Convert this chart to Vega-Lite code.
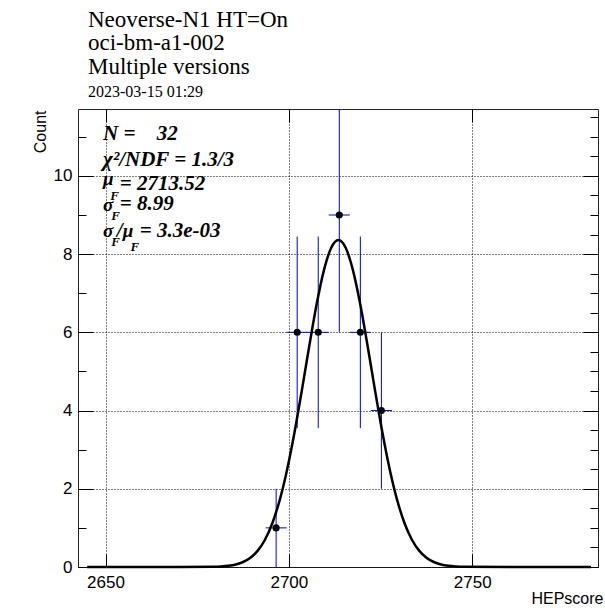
{
  "$schema": "https://vega.github.io/schema/vega-lite/v6.json",
  "width": 520,
  "height": 458,
  "autosize": "none",
  "padding": {"left": 78, "top": 109, "right": 7, "bottom": 41},
  "background": "white",
  "config": {"view": {"stroke": "#222222", "strokeWidth": 1}, "font": "Liberation Sans"},
  "title": {
    "text": ["Neoverse-N1 HT=On", "oci-bm-a1-002", "Multiple versions"],
    "subtitle": "2023-03-15 01:29",
    "anchor": "start",
    "frame": "group",
    "dx": 10,
    "offset": 9,
    "font": "Liberation Serif",
    "fontSize": 23,
    "fontWeight": "normal",
    "lineHeight": 23.5,
    "color": "black",
    "subtitleFont": "Liberation Serif",
    "subtitleFontSize": 16,
    "subtitleColor": "black",
    "subtitlePadding": 5
  },
  "datasets": {
    "bins": [
      {"center": 2696.53, "lo": 2693.66, "hi": 2699.40, "count": 1, "ylo": 0, "yhi": 2},
      {"center": 2702.27, "lo": 2699.40, "hi": 2705.14, "count": 6, "ylo": 3.551, "yhi": 8.449},
      {"center": 2708.01, "lo": 2705.14, "hi": 2710.88, "count": 6, "ylo": 3.551, "yhi": 8.449},
      {"center": 2713.75, "lo": 2710.88, "hi": 2716.62, "count": 9, "ylo": 6, "yhi": 12},
      {"center": 2719.49, "lo": 2716.62, "hi": 2722.36, "count": 6, "ylo": 3.551, "yhi": 8.449},
      {"center": 2725.23, "lo": 2722.36, "hi": 2728.10, "count": 4, "ylo": 2, "yhi": 6}
    ],
    "fit": [
      {"x": 2645.0, "y": 0},
      {"x": 2665.0, "y": 0},
      {"x": 2679.52, "y": 0.0065},
      {"x": 2681.52, "y": 0.0148},
      {"x": 2683.52, "y": 0.0319},
      {"x": 2685.52, "y": 0.0654},
      {"x": 2687.52, "y": 0.1276},
      {"x": 2689.52, "y": 0.2369},
      {"x": 2691.52, "y": 0.4186},
      {"x": 2693.52, "y": 0.7039},
      {"x": 2695.52, "y": 1.1264},
      {"x": 2697.52, "y": 1.7155},
      {"x": 2699.52, "y": 2.4865},
      {"x": 2701.52, "y": 3.4301},
      {"x": 2703.52, "y": 4.5032},
      {"x": 2705.52, "y": 5.6267},
      {"x": 2707.52, "y": 6.6908},
      {"x": 2709.52, "y": 7.5722},
      {"x": 2711.52, "y": 8.1556},
      {"x": 2713.52, "y": 8.36},
      {"x": 2715.52, "y": 8.1556},
      {"x": 2717.52, "y": 7.5722},
      {"x": 2719.52, "y": 6.6908},
      {"x": 2721.52, "y": 5.6267},
      {"x": 2723.52, "y": 4.5032},
      {"x": 2725.52, "y": 3.4301},
      {"x": 2727.52, "y": 2.4865},
      {"x": 2729.52, "y": 1.7155},
      {"x": 2731.52, "y": 1.1264},
      {"x": 2733.52, "y": 0.7039},
      {"x": 2735.52, "y": 0.4186},
      {"x": 2737.52, "y": 0.2369},
      {"x": 2739.52, "y": 0.1276},
      {"x": 2741.52, "y": 0.0654},
      {"x": 2743.52, "y": 0.0319},
      {"x": 2745.52, "y": 0.0148},
      {"x": 2747.52, "y": 0.0065},
      {"x": 2762.0, "y": 0},
      {"x": 2782.4, "y": 0}
    ],
    "one": [{}]
  },
  "resolve": {"axis": {"x": "independent", "y": "independent"}},
  "layer": [
    {
      "data": {"name": "bins"},
      "mark": {"type": "rule", "color": "#0000cc", "strokeWidth": 1, "clip": true},
      "encoding": {
        "x": {
          "field": "center", "type": "quantitative",
          "scale": {"domain": [2642.5, 2784.3], "nice": false, "zero": false},
          "axis": {
            "orient": "bottom", "values": [2650, 2700, 2750], "format": "d", "title": "HEPscore",
            "grid": true, "gridColor": "black", "gridDash": [1, 2], "gridWidth": 1,
            "domain": false, "ticks": true, "tickSize": -13, "tickColor": "black", "tickWidth": 1,
            "labelFont": "Liberation Sans", "labelFontSize": 17, "labelColor": "black", "labelPadding": 20,
            "titleFont": "Liberation Sans", "titleFontSize": 16, "titleFontWeight": "normal", "titleColor": "black",
            "titleAlign": "right", "titleAnchor": "end", "titleBaseline": "alphabetic", "titleX": 525, "titleY": 36
          }
        },
        "y": {
          "field": "ylo", "type": "quantitative",
          "scale": {"domain": [0, 11.71], "nice": false},
          "axis": {
            "orient": "left",
            "values": [0, 0.5, 1, 1.5, 2, 2.5, 3, 3.5, 4, 4.5, 5, 5.5, 6, 6.5, 7, 7.5, 8, 8.5, 9, 9.5, 10, 10.5, 11, 11.5],
            "format": "d",
            "title": "Count",
            "grid": true, "gridColor": "black", "gridDash": [1, 2], "gridWidth": 1,
            "gridOpacity": {"condition": {"test": "datum.value % 2 === 0", "value": 1}, "value": 0},
            "domain": false, "ticks": true,
            "tickSize": {"condition": {"test": "datum.value % 2 === 0", "value": -15}, "value": -8},
            "tickColor": "black", "tickWidth": 1,
            "labelExpr": "datum.value % 2 === 0 ? datum.label : ''",
            "labelFont": "Liberation Sans", "labelFontSize": 17, "labelColor": "black", "labelPadding": 21,
            "titleFont": "Liberation Sans", "titleFontSize": 16, "titleFontWeight": "normal", "titleColor": "black",
            "titleAngle": -90, "titleAlign": "right", "titleAnchor": "end", "titleBaseline": "middle", "titleX": -38, "titleY": 1
          }
        },
        "y2": {"field": "yhi"}
      }
    },
    {
      "data": {"name": "bins"},
      "mark": {"type": "rule", "color": "#0000cc", "strokeWidth": 1},
      "encoding": {
        "x": {"field": "lo", "type": "quantitative", "scale": {"domain": [2642.5, 2784.3], "nice": false, "zero": false}, "axis": null},
        "x2": {"field": "hi"},
        "y": {"field": "count", "type": "quantitative", "scale": {"domain": [0, 11.71], "nice": false}, "axis": null}
      }
    },
    {
      "data": {"name": "bins"},
      "mark": {"type": "point", "filled": true, "shape": "circle", "size": 50, "color": "black", "opacity": 1},
      "encoding": {
        "x": {"field": "center", "type": "quantitative", "scale": {"domain": [2642.5, 2784.3], "nice": false, "zero": false}, "axis": null},
        "y": {"field": "count", "type": "quantitative", "scale": {"domain": [0, 11.71], "nice": false}, "axis": null}
      }
    },
    {
      "data": {"name": "one"},
      "mark": {"type": "text", "align": "left", "baseline": "alphabetic", "font": "Liberation Serif", "fontStyle": "italic", "fontWeight": "bold", "fontSize": 21, "color": "black"},
      "encoding": {"x": {"datum": 2649.35, "type": "quantitative", "axis": null}, "y": {"datum": 10.919, "type": "quantitative", "axis": null}, "text": {"value": "N ="}}
    },
    {
      "data": {"name": "one"},
      "mark": {"type": "text", "align": "left", "baseline": "alphabetic", "font": "Liberation Serif", "fontStyle": "italic", "fontWeight": "bold", "fontSize": 21, "color": "black"},
      "encoding": {"x": {"datum": 2663.99, "type": "quantitative", "axis": null}, "y": {"datum": 10.919, "type": "quantitative", "axis": null}, "text": {"value": "32"}}
    },
    {
      "data": {"name": "one"},
      "mark": {"type": "text", "align": "left", "baseline": "alphabetic", "font": "Liberation Serif", "fontStyle": "italic", "fontWeight": "bold", "fontSize": 21, "color": "black"},
      "encoding": {"x": {"datum": 2649.35, "type": "quantitative", "axis": null}, "y": {"datum": 10.264, "type": "quantitative", "axis": null}, "text": {"value": "χ²/NDF = 1.3/3"}}
    },
    {
      "data": {"name": "one"},
      "mark": {"type": "text", "align": "left", "baseline": "alphabetic", "font": "Liberation Serif", "fontStyle": "italic", "fontWeight": "bold", "fontSize": 19, "color": "black"},
      "encoding": {"x": {"datum": 2649.35, "type": "quantitative", "axis": null}, "y": {"datum": 9.77, "type": "quantitative", "axis": null}, "text": {"value": "μ"}}
    },
    {
      "data": {"name": "one"},
      "mark": {"type": "text", "align": "left", "baseline": "alphabetic", "font": "Liberation Serif", "fontStyle": "italic", "fontWeight": "bold", "fontSize": 13, "color": "black"},
      "encoding": {"x": {"datum": 2651.3, "type": "quantitative", "axis": null}, "y": {"datum": 9.38, "type": "quantitative", "axis": null}, "text": {"value": "F"}}
    },
    {
      "data": {"name": "one"},
      "mark": {"type": "text", "align": "left", "baseline": "alphabetic", "font": "Liberation Serif", "fontStyle": "italic", "fontWeight": "bold", "fontSize": 21, "color": "black"},
      "encoding": {"x": {"datum": 2653.9, "type": "quantitative", "axis": null}, "y": {"datum": 9.642, "type": "quantitative", "axis": null}, "text": {"value": "= 2713.52"}}
    },
    {
      "data": {"name": "one"},
      "mark": {"type": "text", "align": "left", "baseline": "alphabetic", "font": "Liberation Serif", "fontStyle": "italic", "fontWeight": "bold", "fontSize": 19, "color": "black"},
      "encoding": {"x": {"datum": 2649.35, "type": "quantitative", "axis": null}, "y": {"datum": 9.104, "type": "quantitative", "axis": null}, "text": {"value": "σ"}}
    },
    {
      "data": {"name": "one"},
      "mark": {"type": "text", "align": "left", "baseline": "alphabetic", "font": "Liberation Serif", "fontStyle": "italic", "fontWeight": "bold", "fontSize": 13, "color": "black"},
      "encoding": {"x": {"datum": 2651.6, "type": "quantitative", "axis": null}, "y": {"datum": 8.874, "type": "quantitative", "axis": null}, "text": {"value": "F"}}
    },
    {
      "data": {"name": "one"},
      "mark": {"type": "text", "align": "left", "baseline": "alphabetic", "font": "Liberation Serif", "fontStyle": "italic", "fontWeight": "bold", "fontSize": 21, "color": "black"},
      "encoding": {"x": {"datum": 2653.9, "type": "quantitative", "axis": null}, "y": {"datum": 9.13, "type": "quantitative", "axis": null}, "text": {"value": "= 8.99"}}
    },
    {
      "data": {"name": "one"},
      "mark": {"type": "text", "align": "left", "baseline": "alphabetic", "font": "Liberation Serif", "fontStyle": "italic", "fontWeight": "bold", "fontSize": 19, "color": "black"},
      "encoding": {"x": {"datum": 2649.35, "type": "quantitative", "axis": null}, "y": {"datum": 8.446, "type": "quantitative", "axis": null}, "text": {"value": "σ"}}
    },
    {
      "data": {"name": "one"},
      "mark": {"type": "text", "align": "left", "baseline": "alphabetic", "font": "Liberation Serif", "fontStyle": "italic", "fontWeight": "bold", "fontSize": 13, "color": "black"},
      "encoding": {"x": {"datum": 2651.6, "type": "quantitative", "axis": null}, "y": {"datum": 8.208, "type": "quantitative", "axis": null}, "text": {"value": "F"}}
    },
    {
      "data": {"name": "one"},
      "mark": {"type": "text", "align": "left", "baseline": "alphabetic", "font": "Liberation Serif", "fontStyle": "italic", "fontWeight": "bold", "fontSize": 21, "color": "black"},
      "encoding": {"x": {"datum": 2653.08, "type": "quantitative", "axis": null}, "y": {"datum": 8.446, "type": "quantitative", "axis": null}, "text": {"value": "/"}}
    },
    {
      "data": {"name": "one"},
      "mark": {"type": "text", "align": "left", "baseline": "alphabetic", "font": "Liberation Serif", "fontStyle": "italic", "fontWeight": "bold", "fontSize": 19, "color": "black"},
      "encoding": {"x": {"datum": 2654.72, "type": "quantitative", "axis": null}, "y": {"datum": 8.446, "type": "quantitative", "axis": null}, "text": {"value": "μ"}}
    },
    {
      "data": {"name": "one"},
      "mark": {"type": "text", "align": "left", "baseline": "alphabetic", "font": "Liberation Serif", "fontStyle": "italic", "fontWeight": "bold", "fontSize": 13, "color": "black"},
      "encoding": {"x": {"datum": 2656.8, "type": "quantitative", "axis": null}, "y": {"datum": 8.088, "type": "quantitative", "axis": null}, "text": {"value": "F"}}
    },
    {
      "data": {"name": "one"},
      "mark": {"type": "text", "align": "left", "baseline": "alphabetic", "font": "Liberation Serif", "fontStyle": "italic", "fontWeight": "bold", "fontSize": 21, "color": "black"},
      "encoding": {"x": {"datum": 2659.35, "type": "quantitative", "axis": null}, "y": {"datum": 8.446, "type": "quantitative", "axis": null}, "text": {"value": "= 3.3e-03"}}
    },
    {
      "data": {"name": "fit"},
      "mark": {"type": "line", "color": "black", "strokeWidth": 2.5, "interpolate": "monotone"},
      "encoding": {
        "x": {
          "field": "x", "type": "quantitative",
          "scale": {"domain": [2642.5, 2784.3], "nice": false, "zero": false},
          "axis": {"orient": "top", "values": [2650, 2700, 2750], "title": null, "labels": false, "grid": false, "domain": false, "ticks": true, "tickSize": -13, "tickColor": "black", "tickWidth": 1}
        },
        "y": {
          "field": "y", "type": "quantitative",
          "scale": {"domain": [0, 11.71], "nice": false},
          "axis": {
            "orient": "right",
            "values": [0, 0.5, 1, 1.5, 2, 2.5, 3, 3.5, 4, 4.5, 5, 5.5, 6, 6.5, 7, 7.5, 8, 8.5, 9, 9.5, 10, 10.5, 11, 11.5],
            "title": null, "labels": false, "grid": false, "domain": false, "ticks": true,
            "tickSize": {"condition": {"test": "datum.value % 2 === 0", "value": -15}, "value": -8},
            "tickColor": "black", "tickWidth": 1
          }
        }
      }
    }
  ]
}
